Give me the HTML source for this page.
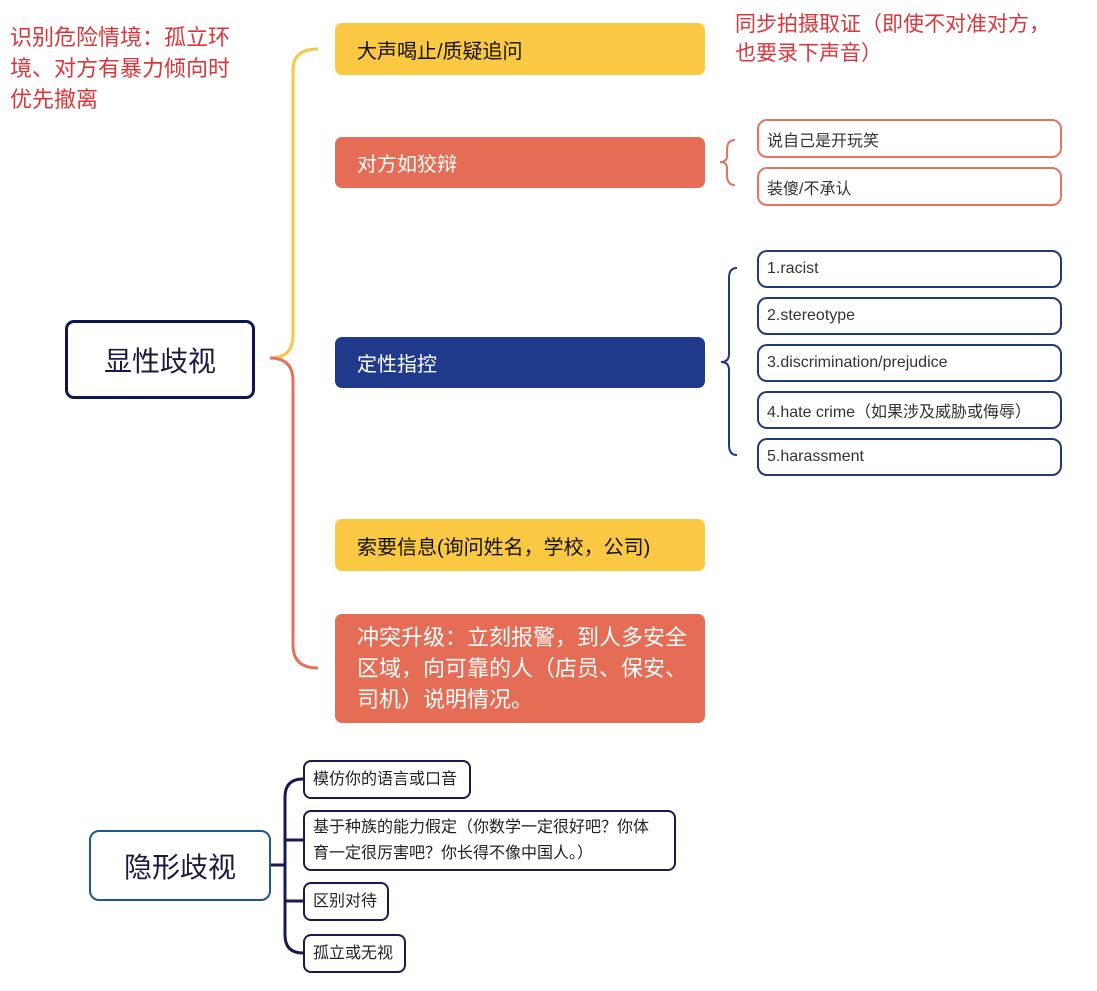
<!DOCTYPE html>
<html><head><meta charset="utf-8"><style>
body{margin:0;width:1097px;height:991px;background:#fff;position:relative;overflow:hidden;font-family:"Liberation Sans","Noto Sans CJK SC",sans-serif}
.a{position:absolute;box-sizing:border-box}
.big{border-radius:7px;display:flex;align-items:center;padding-left:22px;font-size:20px}
.sm{border:2px solid;border-radius:10px;background:#fff;font-size:16px;color:#333;display:flex;align-items:center;padding-left:8px}
.bt{border:2px solid #1a1a50;border-radius:8px;background:#fff;font-size:16px;color:#222;padding:0 8px;line-height:26px;display:flex;align-items:center;white-space:nowrap}
</style></head><body>
<svg class="a" style="left:0;top:0" width="1097" height="991">
<g fill="none" stroke-width="3">
<path d="M270 358 Q293 358 293 335 L293 70 Q293 49 318 49" stroke="#f7c74a"/>
<path d="M270 358 Q293 358 293 381 L293 645 Q293 668 318 668" stroke="#e2735c"/>
</g>
<g fill="none" stroke-width="2">
<path d="M735 140 Q727 140 727 150 L727 156 Q727 162 720 162 Q727 162 727 168 L727 175 Q727 185 735 185" stroke="#e2735c"/>
<path d="M737 268 Q729 268 729 278 L729 354 Q729 362 721 362 Q729 362 729 370 L729 445 Q729 455 737 455" stroke="#1f3a7a"/>
<g stroke="#1a1a50" stroke-width="3">
<path d="M270 865 L285 865"/>
<path d="M303 779 Q285 779 285 797 L285 935 Q285 953 303 953"/>
<path d="M285 840 L303 840"/>
<path d="M285 901 L303 901"/>
</g>
</g>
</svg>
<div class="a" style="left:10px;top:22px;font-size:22px;line-height:31px;color:#d9363b;width:228px">识别危险情境：孤立环境、对方有暴力倾向时优先撤离</div>
<div class="a" style="left:735px;top:10px;font-size:21px;line-height:29px;color:#d9363b;width:322px">同步拍摄取证（即使不对准对方，也要录下声音）</div>
<div class="a" style="left:65px;top:320px;width:190px;height:79px;border:3px solid #0d1650;border-radius:9px;display:flex;align-items:center;justify-content:center;font-size:28px;color:#1a1a40">显性歧视</div>
<div class="a big" style="left:335px;top:23px;width:370px;height:52px;background:#fbc844;color:#111">大声喝止/质疑追问</div>
<div class="a big" style="left:335px;top:137px;width:370px;height:51px;background:#e56c55;color:#fff">对方如狡辩</div>
<div class="a big" style="left:335px;top:337px;width:370px;height:51px;background:#1f3a8a;color:#fff">定性指控</div>
<div class="a big" style="left:335px;top:519px;width:370px;height:52px;background:#fbc844;color:#111">索要信息(询问姓名，学校，公司)</div>
<div class="a big" style="left:335px;top:614px;width:370px;height:109px;background:#e56c55;color:#fff;line-height:31px;padding-right:12px;font-size:22px">冲突升级：立刻报警，到人多安全区域，向可靠的人（店员、保安、司机）说明情况。</div>
<div class="a sm" style="left:757px;top:119px;width:305px;height:39px;border-color:#e5735e">说自己是开玩笑</div>
<div class="a sm" style="left:757px;top:167px;width:305px;height:39px;border-color:#e5735e">装傻/不承认</div>
<div class="a sm" style="left:757px;top:250px;width:305px;height:38px;border-color:#1f3a7a">1.racist</div>
<div class="a sm" style="left:757px;top:297px;width:305px;height:38px;border-color:#1f3a7a">2.stereotype</div>
<div class="a sm" style="left:757px;top:344px;width:305px;height:38px;border-color:#1f3a7a">3.discrimination/prejudice</div>
<div class="a sm" style="left:757px;top:391px;width:305px;height:38px;border-color:#1f3a7a">4.hate crime（如果涉及威胁或侮辱）</div>
<div class="a sm" style="left:757px;top:438px;width:305px;height:38px;border-color:#1f3a7a">5.harassment</div>
<div class="a" style="left:89px;top:830px;width:182px;height:71px;border:2px solid #1a5a8c;border-radius:10px;display:flex;align-items:center;justify-content:center;font-size:28px;color:#1a1a40">隐形歧视</div>
<div class="a bt" style="left:303px;top:760px;width:168px;height:39px">模仿你的语言或口音</div>
<div class="a bt" style="left:303px;top:810px;width:373px;height:61px;white-space:normal;padding-right:14px">基于种族的能力假定（你数学一定很好吧？你体育一定很厉害吧？你长得不像中国人。）</div>
<div class="a bt" style="left:303px;top:882px;width:86px;height:39px">区别对待</div>
<div class="a bt" style="left:303px;top:934px;width:103px;height:39px">孤立或无视</div>
</body></html>
